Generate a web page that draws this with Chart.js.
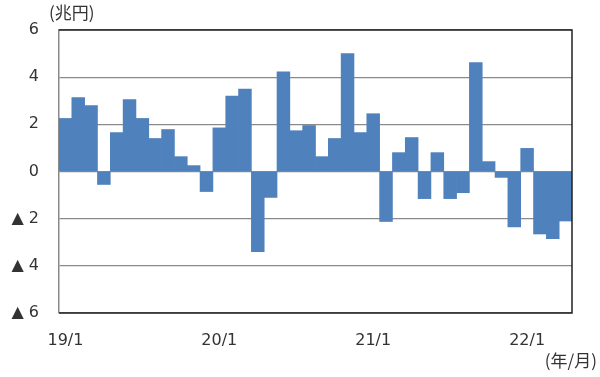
<!DOCTYPE html>
<html>
<head>
<meta charset="utf-8">
<script src="https://cdn.jsdelivr.net/npm/chart.js@4"></script>
<style>
    html, body { margin: 0; padding: 0; background: #fff; }
    #wrap { width: 600px; height: 377px; }
</style>
</head>
<body>
<div id="wrap"><canvas id="barCanvas" width="600" height="377"></canvas></div>
<script>
// 月次データ（兆円）
const months = [
    '19/1', '19/2', '19/3', '19/4', '19/5', '19/6', '19/7', '19/8', '19/9', '19/10', '19/11', '19/12',
    '20/1', '20/2', '20/3', '20/4', '20/5', '20/6', '20/7', '20/8', '20/9', '20/10', '20/11', '20/12',
    '21/1', '21/2', '21/3', '21/4', '21/5', '21/6', '21/7', '21/8', '21/9', '21/10', '21/11', '21/12',
    '22/1', '22/2', '22/3', '22/4'
];
const values = [
    2.25, 3.13, 2.8, -0.55, 1.65, 3.05, 2.25, 1.4, 1.78, 0.63, 0.25, -0.85,
    1.85, 3.2, 3.5, -3.4, -1.1, 4.23, 1.73, 1.95, 0.63, 1.4, 5.0, 1.65,
    2.45, -2.12, 0.8, 1.44, -1.15, 0.8, -1.15, -0.9, 4.62, 0.42, -0.25, -2.35,
    0.98, -2.65, -2.85, -2.1
];
const shownTicks = ['19/1', '20/1', '21/1', '22/1'];
const yMin = -6, yMax = 6, yStep = 2;

const textColor = '#333';
const tickFont = { family: 'DejaVu Sans', size: 16 };

// 枠線と単位ラベル
const framePlugin = {
    id: 'frame',
    afterDraw(chart) {
        const { ctx, chartArea } = chart;
        ctx.save();
        ctx.strokeStyle = '#222';
        ctx.lineWidth = 1.5;
        ctx.beginPath();
        ctx.moveTo(chartArea.left, chartArea.top);
        ctx.lineTo(chartArea.right, chartArea.top);
        ctx.lineTo(chartArea.right, chartArea.bottom);
        ctx.lineTo(chartArea.left, chartArea.bottom);
        ctx.stroke();
        ctx.fillStyle = textColor;
        ctx.font = '17px "Noto Sans CJK JP"';
        ctx.textBaseline = 'middle';
        ctx.textAlign = 'left';
        ctx.fillText('(兆円)', 49, 13);
        ctx.textAlign = 'right';
        ctx.fillText('(年/月)', 597, 361);
        ctx.restore();
    }
};

const ctx = document.getElementById('barCanvas').getContext('2d');
new Chart(ctx, {
    type: 'bar',
    data: {
        labels: months,
        datasets: [{
            data: values,
            backgroundColor: '#4f81bd',
            borderWidth: 0,
            barPercentage: 1.0,
            categoryPercentage: 1.0
        }]
    },
    options: {
        responsive: false,
        animation: false,
        layout: { padding: { top: 30, right: 28, left: 0, bottom: 0 } },
        plugins: {
            legend: { display: false },
            tooltip: { enabled: false }
        },
        scales: {
            x: {
                grid: { display: false, drawTicks: false },
                border: { display: false },
                ticks: {
                    autoSkip: false,
                    maxRotation: 0,
                    padding: 18,
                    color: textColor,
                    font: tickFont,
                    callback: function (value) {
                        const lab = this.getLabelForValue(value);
                        return shownTicks.includes(lab) ? lab : '';
                    }
                },
                afterFit: (scale) => { scale.height = 64; }
            },
            y: {
                min: yMin,
                max: yMax,
                ticks: {
                    stepSize: yStep,
                    padding: 20,
                    color: textColor,
                    font: tickFont,
                    callback: (v) => v < 0 ? '▲ ' + (-v) : String(v)
                },
                grid: { color: '#8a8a8a', lineWidth: 1.2, drawTicks: false },
                border: { display: true, color: '#8a8a8a', width: 1.5 },
                afterFit: (scale) => { scale.width = 59; }
            }
        }
    },
    plugins: [framePlugin]
});
</script>
</body>
</html>
